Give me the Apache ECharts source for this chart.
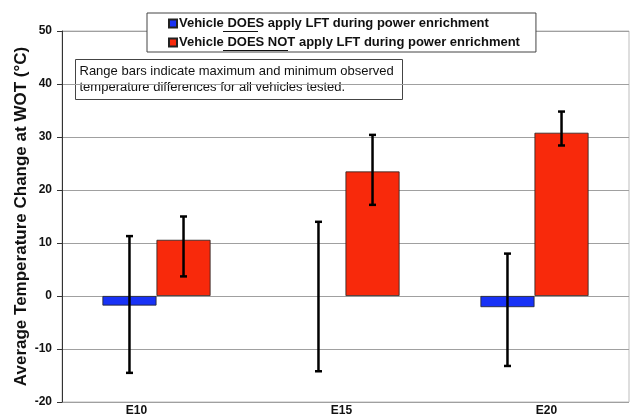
<!DOCTYPE html>
<html>
<head>
<meta charset="utf-8">
<script src="https://cdn.jsdelivr.net/npm/echarts@6/dist/echarts.min.js"></script>
<style>html,body{margin:0;padding:0;background:#fff}#c{width:631px;height:417px}</style>
</head>
<body>
<div id="c"></div>
<script>
var categories = ['E10', 'E15', 'E20'];
var seriesNames = ['Vehicle DOES apply LFT during power enrichment', 'Vehicle DOES NOT apply LFT during power enrichment'];
var doesValues = [-1.8, 0, -2.1];
var doesMax = [11.3, 14.0, 8.0];
var doesMin = [-14.5, -14.2, -13.2];
var doesNotValues = [10.6, 23.5, 30.8];
var doesNotMax = [15.0, 30.4, 34.8];
var doesNotMin = [3.7, 17.2, 28.4];
var yTicks = [-20, -10, 0, 10, 20, 30, 40, 50];
var noteLines = ['Range bars indicate maximum and minimum observed', 'temperature differences for all vehicles tested.'];

var BAR_FRAC = 0.286;
var blue = '#1832f6', red = '#f8290b';
var FONT = 'Arial, "Liberation Sans", sans-serif';
// horizontal nudge of each category label (px), as in the original layout
var labelShift = [-20, -4, 12];

function errorSeries(name, lows, highs, side) {
  var data = categories.map(function (c, i) { return [i, lows[i], highs[i]]; });
  return {
    type: 'custom', name: name + ' range', silent: true, z: 10,
    data: data,
    renderItem: function (params, api) {
      var band = api.size([1, 0])[0];
      var off = side * band * BAR_FRAC / 2;
      var lo = api.coord([api.value(0), api.value(1)]);
      var hi = api.coord([api.value(0), api.value(2)]);
      var x = lo[0] + off, cap = 3.5;
      var st = { stroke: '#000', lineWidth: 2.5 };
      return { type: 'group', children: [
        { type: 'line', shape: { x1: x, y1: lo[1], x2: x, y2: hi[1] }, style: st },
        { type: 'line', shape: { x1: x - cap, y1: lo[1], x2: x + cap, y2: lo[1] }, style: st },
        { type: 'line', shape: { x1: x - cap, y1: hi[1], x2: x + cap, y2: hi[1] }, style: st }
      ]};
    }
  };
}

var rich = {};
labelShift.forEach(function (s, i) {
  rich['l' + i] = { fontWeight: 'bold', fontSize: 12, color: '#111', fontFamily: FONT,
    padding: s < 0 ? [0, -2 * s, 0, 0] : [0, 0, 0, 2 * s] };
});

var chart = echarts.init(document.getElementById('c'), null, { renderer: 'canvas' });
chart.setOption({
  animation: false,
  textStyle: { fontFamily: FONT },
  grid: { left: 62, right: 2, top: 31, bottom: 14, show: true, borderColor: '#bdbdbd', borderWidth: 1 },
  legend: {
    orient: 'vertical', left: 147, top: 13,
    padding: [4, 16, 3, 21], itemGap: 6,
    borderColor: '#444', borderWidth: 1, backgroundColor: '#fff',
    itemWidth: 8, itemHeight: 8, icon: 'rect',
    textStyle: { fontWeight: 'bold', fontSize: 13, color: '#111', padding: [0, 0, 0, -3] },
    data: seriesNames
  },
  xAxis: {
    type: 'category', data: categories,
    axisLine: { show: false }, axisTick: { show: false },
    axisLabel: { margin: 3, fontWeight: 'bold', fontSize: 12, color: '#111', rich: rich,
      formatter: function (v, i) { return '{l' + i + '|' + v + '}'; } }
  },
  yAxis: {
    type: 'value', min: yTicks[0], max: yTicks[yTicks.length - 1], interval: 10,
    name: 'Average Temperature Change at WOT (\u00B0C)',
    nameLocation: 'middle', nameGap: 32, nameMoveOverlap: false,
    nameTextStyle: { fontWeight: 'bold', fontSize: 17, color: '#111' },
    axisLine: { show: true, lineStyle: { color: '#333', width: 1 } },
    axisTick: { show: true, length: 5, lineStyle: { color: '#333' } },
    axisLabel: { margin: 10, fontWeight: 'bold', fontSize: 12, color: '#111' },
    splitLine: { lineStyle: { color: '#a0a0a0', width: 1.2 } }
  },
  series: [
    { type: 'bar', name: seriesNames[0], barWidth: (BAR_FRAC * 100) + '%', barGap: '0%',
      data: doesValues.map(function (v) { return v === 0 ? { value: v, itemStyle: { borderWidth: 0 } } : v; }),
      itemStyle: { color: blue, borderColor: '#222', borderWidth: 0.8 } },
    { type: 'bar', name: seriesNames[1], data: doesNotValues, barWidth: (BAR_FRAC * 100) + '%',
      itemStyle: { color: red, borderColor: '#222', borderWidth: 0.8 } },
    errorSeries(seriesNames[0], doesMin, doesMax, -1),
    errorSeries(seriesNames[1], doesNotMin, doesNotMax, 1)
  ],
  graphic: [
    { type: 'group', left: 75, top: 59, z: 100, children: [
      { type: 'rect', shape: { x: 0, y: 0, width: 327, height: 40 }, style: { fill: '#fff', stroke: '#444', lineWidth: 1 } },
      { type: 'text', x: 4, y: 4, style: { text: noteLines.join('\n'), font: '13px ' + FONT, lineHeight: 16, fill: '#111' } }
    ]},
    { type: 'line', z: 100, shape: { x1: 223, y1: 31.5, x2: 258, y2: 31.5 }, style: { stroke: '#111', lineWidth: 1 } },
    { type: 'line', z: 100, shape: { x1: 223, y1: 50.5, x2: 288, y2: 50.5 }, style: { stroke: '#111', lineWidth: 1 } }
  ]
});
</script>
</body>
</html>
